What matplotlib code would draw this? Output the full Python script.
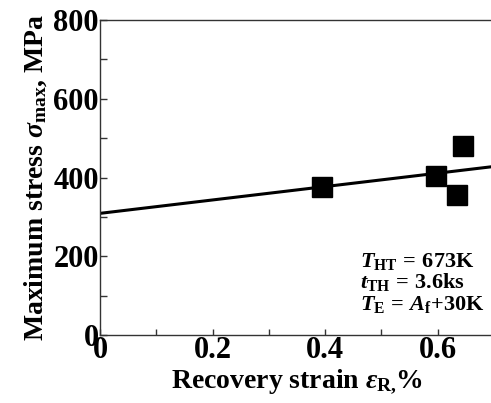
import matplotlib
matplotlib.use("Agg")
import matplotlib.pyplot as plt
from matplotlib.ticker import MultipleLocator

plt.rcParams['font.family'] = ['Liberation Serif', 'DejaVu Serif']
plt.rcParams['font.weight'] = 'bold'
plt.rcParams['mathtext.fontset'] = 'custom'
plt.rcParams['mathtext.rm'] = 'Liberation Serif:bold'
plt.rcParams['mathtext.it'] = 'Liberation Serif:italic:bold'
plt.rcParams['mathtext.bf'] = 'Liberation Serif:bold'
plt.rcParams['mathtext.default'] = 'it'

# Measured points
recovery_strain = [0.394, 0.598, 0.634, 0.645]   # %
max_stress = [376, 403, 355, 480]                # MPa

# Linear trend line: sigma = intercept + slope * eps
trend_intercept = 309
trend_slope = 170
trend_x = [0.0, 0.7]

x_ticks = [0, 0.2, 0.4, 0.6]
x_tick_labels = ['0', '0.2', '0.4', '0.6']
y_ticks = [0, 200, 400, 600, 800]

fig = plt.figure(figsize=(4.91, 4.03), dpi=100)
ax = fig.add_axes([0.2037, 0.1687, 0.802, 0.7816])

trend_y = [trend_intercept + trend_slope * x for x in trend_x]
ax.plot(trend_x, trend_y, color='black', lw=2.2, zorder=2)
ax.plot(recovery_strain, max_stress, linestyle='none', marker='s',
        markersize=15, color='black', zorder=3)

ax.set_xlim(0, 0.7)
ax.set_ylim(0, 800)
ax.set_xticks(x_ticks)
ax.set_xticklabels(x_tick_labels)
ax.set_yticks(y_ticks)
ax.xaxis.set_minor_locator(MultipleLocator(0.1))
ax.yaxis.set_minor_locator(MultipleLocator(100))
ax.tick_params(which='both', direction='in', length=5, width=1, color='#333333',
               labelsize=22, pad=1)
ax.tick_params(axis='x', which='both', length=4)
for lab in ax.get_xticklabels() + ax.get_yticklabels():
    lab.set_fontweight('bold')

ax.spines['right'].set_visible(False)
for s in ['left', 'bottom', 'top']:
    ax.spines[s].set_linewidth(1)
    ax.spines[s].set_color('#333333')

ax.set_xlabel(r'Recovery strain $\varepsilon_{\mathrm{R,}}\!\mathrm{\%}$', fontsize=20,
              fontweight='bold', labelpad=1)
ax.set_ylabel(r'Maximum stress $\sigma_{\mathrm{max}}$, MPa', fontsize=20,
              fontweight='bold', labelpad=3)

ax.text(0.462, 173, r'$T_{\mathrm{HT}}\mathrm{\,=\,673K}$', fontsize=16, va='baseline')
ax.text(0.462, 119, r'$t_{\mathrm{TH}}\mathrm{\,=\,3.6ks}$', fontsize=16, va='baseline')
ax.text(0.462, 64, r'$T_{\mathrm{E}}\mathrm{\,=\,}A_{\mathrm{f}}\mathrm{+30K}$', fontsize=16, va='baseline')

fig.savefig('out.png', dpi=100)
